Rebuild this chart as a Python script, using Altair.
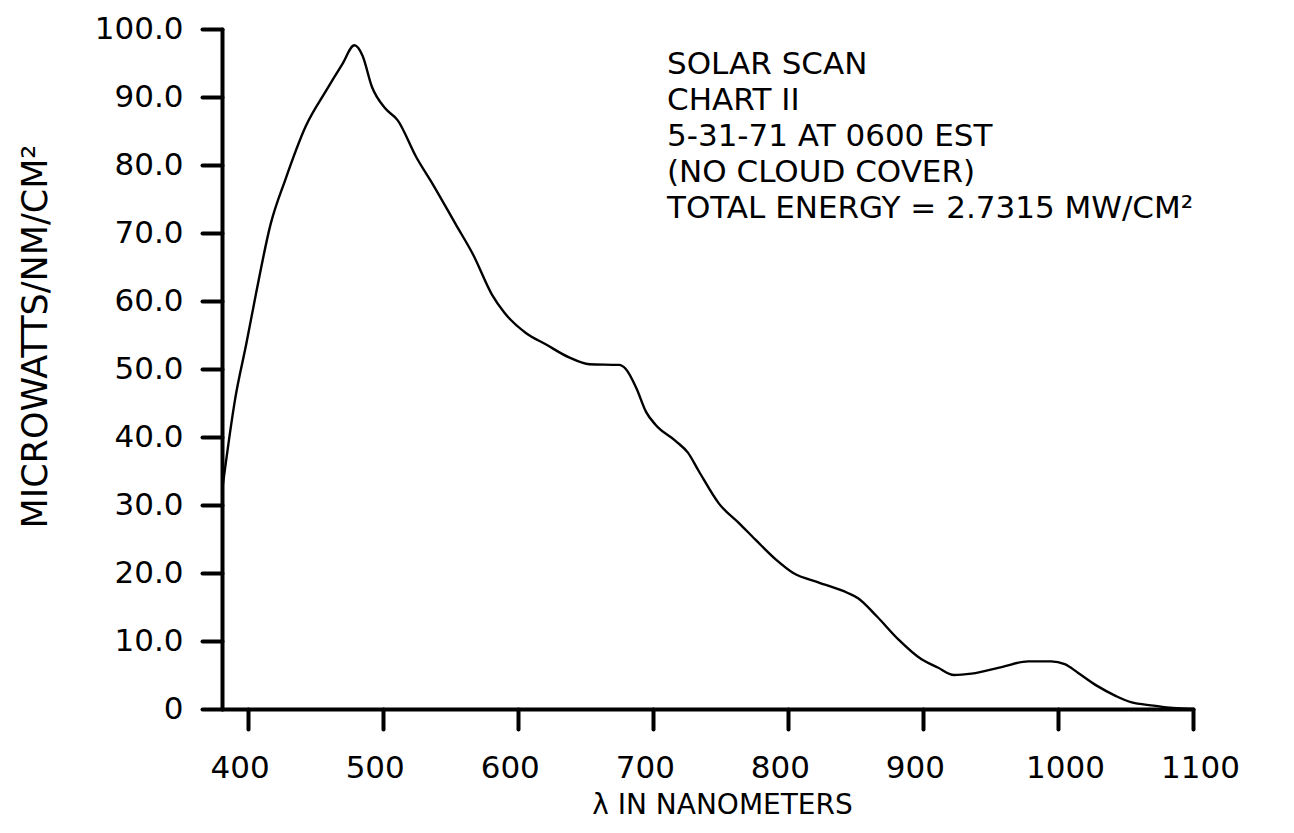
import altair as alt
import pandas as pd

# wavelength (nm) and irradiance (microwatts / nm / cm^2)
wavelength = [381, 391, 399, 406, 417, 428, 443, 458, 470, 479, 485, 492, 502, 511,
              525, 537, 554, 567, 581, 590, 606, 621, 638, 653, 675, 680, 688, 695,
              702, 717, 726, 734, 749, 764, 776, 791, 804, 823, 844, 852, 866, 882,
              899, 911, 923, 936, 959, 978, 995, 1005, 1015, 1029, 1043, 1054, 1071,
              1085, 1100]
irradiance = [32.0, 45.9, 53.7, 60.9, 71.3, 77.9, 85.7, 90.9, 94.8, 97.6, 96.1, 91.5,
              88.3, 86.6, 81.1, 77.2, 71.3, 66.8, 60.9, 58.3, 55.3, 53.6, 51.7, 50.7,
              50.6, 50.0, 47.1, 43.7, 41.8, 39.4, 37.7, 35.0, 30.2, 27.3, 24.9, 22.0,
              20.0, 18.6, 17.1, 16.3, 13.6, 10.2, 7.3, 6.1, 5.0, 5.2, 6.2, 7.0, 7.0,
              6.6, 5.3, 3.4, 1.9, 1.0, 0.5, 0.15, 0.0]

x_ticks = [400, 500, 600, 700, 800, 900, 1000, 1100]
y_ticks = [0, 10, 20, 30, 40, 50, 60, 70, 80, 90, 100]
notes = ["SOLAR SCAN", "CHART II", "5-31-71 AT 0600 EST", "(NO CLOUD COVER)",
         "TOTAL ENERGY = 2.7315 MW/CM\u00b2"]

FONT = "DejaVu Sans"
df = pd.DataFrame({"nm": wavelength, "uw": irradiance})

x_enc = alt.X(
    "nm:Q",
    scale=alt.Scale(domain=[381, 1100], nice=False, zero=False),
    axis=alt.Axis(
        values=x_ticks,
        format="d",
        labelFlush=False,
        labelOverlap=False,
        labelBound=False,
        labelPadding=24,
        labelFontSize=31,
        labelOffset={"condition": {"test": "datum.value >= 1000", "value": 7}, "value": -8},
        title="\u03bb  IN  NANOMETERS",
        titleFontSize=28,
        titleX=500,
        titleY=82,
        titleAlign="center",
        titleBaseline="top",
    ),
)
y_enc = alt.Y(
    "uw:Q",
    scale=alt.Scale(domain=[0, 100], nice=False),
    axis=alt.Axis(
        values=y_ticks,
        labelExpr="datum.value == 0 ? '0' : format(datum.value, '.1f')",
        labelPadding=19,
        labelFontSize=31,
        title="MICROWATTS/NM/CM\u00b2",
        titleFontSize=35,
        titleX=-169,
        titleY=307,
        titleAngle=270,
        titleAlign="center",
        titleBaseline="bottom",
    ),
)

line = alt.Chart(df).mark_line(
    color="black", strokeWidth=2.4, interpolate="monotone"
).encode(x=x_enc, y=y_enc)

text = alt.Chart(pd.DataFrame({"k": [0]})).mark_text(
    text=notes,
    align="left",
    baseline="top",
    font=FONT,
    fontSize=31,
    lineHeight=36,
    color="black",
).encode(x=alt.value(445), y=alt.value(21))

chart = (
    alt.layer(line, text)
    .properties(
        width=971,
        height=680,
        autosize="none",
        padding={"left": 214, "top": 21, "right": 90, "bottom": 111},
        background="white",
    )
    .configure_view(stroke=None)
    .configure_axis(
        grid=False,
        domainColor="black",
        domainWidth=4,
        domainCap="round",
        tickColor="black",
        tickWidth=4,
        tickSize=20,
        tickCap="round",
        labelFont=FONT,
        labelColor="black",
        titleFont=FONT,
        titleFontWeight="normal",
        titleColor="black",
    )
)

chart.save("out.html", embed_options={"renderer": "svg", "actions": False})
